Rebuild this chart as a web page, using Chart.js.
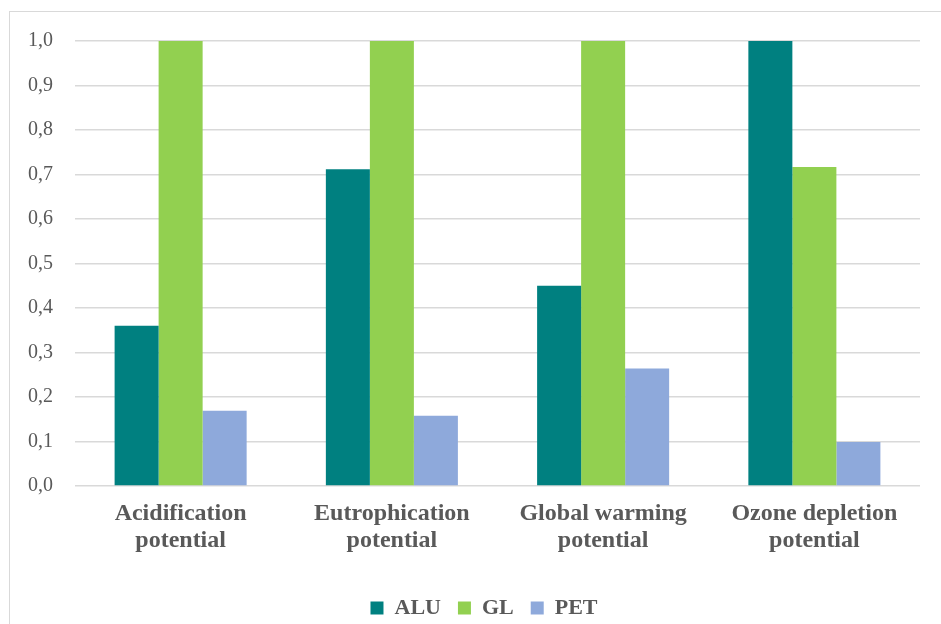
<!DOCTYPE html>
<html>
<head>
<meta charset="utf-8">
<script src="https://cdn.jsdelivr.net/npm/chart.js@4/dist/chart.umd.min.js"></script>
<style>
  html, body { margin: 0; padding: 0; background: #ffffff; overflow: hidden; }
  #frame { position: absolute; left: 9px; top: 11px; width: 1000px; height: 700px; border: 1.5px solid #d9d9d9; box-sizing: border-box; }
  #wrap { position: absolute; left: 0; top: 0; width: 941px; height: 624px; }
</style>
</head>
<body>
<div id="frame"></div>
<div id="wrap"><canvas id="c" width="941" height="624"></canvas></div>
<script>
const categories = [
  ['Acidification', 'potential'],
  ['Eutrophication', 'potential'],
  ['Global warming', 'potential'],
  ['Ozone depletion', 'potential']
];
const seriesNames = ['ALU', 'GL', 'PET'];
const aluValues = [0.360, 0.712, 0.450, 1.000];
const glValues  = [1.000, 1.000, 1.000, 0.717];
const petValues = [0.169, 0.158, 0.264, 0.099];
const yTickValues = [0, 0.1, 0.2, 0.3, 0.4, 0.5, 0.6, 0.7, 0.8, 0.9, 1.0];
const yTickLabels = ['0,0', '0,1', '0,2', '0,3', '0,4', '0,5', '0,6', '0,7', '0,8', '0,9', '1,0'];

const colors = ['#008080', '#92D050', '#8EA9DB'];
const textColor = '#595959';
const fontFamily = '"Liberation Serif", "DejaVu Serif", serif';

// The original chart area extends past the right edge of the picture,
// so the legend is centred slightly right of the canvas centre.
const legendShift = {
  id: 'legendShift',
  afterLayout(chart) {
    if (chart.legend) {
      chart.legend.left += 14;
      chart.legend.right += 14;
    }
  }
};

new Chart(document.getElementById('c'), {
  type: 'bar',
  data: {
    labels: categories,
    datasets: [aluValues, glValues, petValues].map((vals, i) => ({
      label: seriesNames[i],
      data: vals,
      backgroundColor: colors[i],
      borderWidth: 0,
      categoryPercentage: 0.625,
      barPercentage: 1.0
    }))
  },
  plugins: [legendShift],
  options: {
    responsive: false,
    animation: false,
    devicePixelRatio: 1,
    layout: { padding: { left: 20, right: 21, top: 41, bottom: 0 } },
    plugins: {
      tooltip: { enabled: false },
      legend: {
        position: 'bottom',
        maxHeight: 44,
        labels: {
          boxWidth: 13,
          boxHeight: 13,
          padding: 17,
          color: textColor,
          font: { family: fontFamily, size: 22, weight: 'bold' }
        }
      }
    },
    scales: {
      x: {
        grid: { display: false, drawTicks: false },
        border: { display: false },
        ticks: {
          color: textColor,
          padding: 15,
          maxRotation: 0,
          autoSkip: false,
          font: { family: fontFamily, size: 24, weight: 'bold', lineHeight: 1.1 }
        },
        afterFit: (s) => { s.height = 94; }
      },
      y: {
        min: 0,
        max: 1,
        afterBuildTicks: (s) => { s.ticks = yTickValues.map(v => ({ value: v })); },
        grid: { color: '#d9d9d9', lineWidth: 1.6, drawTicks: false },
        border: { display: false },
        ticks: {
          color: textColor,
          padding: 22,
          font: { family: fontFamily, size: 20 },
          callback: (v) => {
            const idx = yTickValues.findIndex(t => Math.abs(t - v) < 1e-9);
            return idx >= 0 ? yTickLabels[idx] : '';
          }
        },
        afterFit: (s) => { s.width = 55; }
      }
    }
  }
});
</script>
</body>
</html>
